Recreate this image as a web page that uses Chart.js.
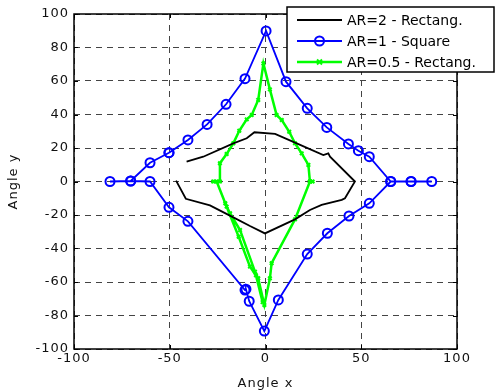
<!DOCTYPE html>
<html>
<head>
<meta charset="utf-8">
<script src="https://cdn.jsdelivr.net/npm/chart.js@4/dist/chart.umd.min.js"></script>
<style>
  html, body { margin: 0; padding: 0; background: #fff; }
  #wrap { width: 496px; height: 392px; }
</style>
</head>
<body>
<div id="wrap"><canvas id="angleChart"></canvas></div>
<script>
// AR=1 - Square (blue, circles)
var sqX = [-50.4, -60.3, -70.4, -81.2, -70.4, -60.3, -50.4, -40.5, -10.7, -10.2, -8.5, -0.6, 6.7, 21.8, 32.3, 43.6, 54.2, 65.4, 76, 86.8, 76, 65.4, 54.2, 48.5, 43.3, 32, 21.8, 10.7, 0.3, -10.7, -20.6, -30.5, -40.5, -50.4];
var sqY = [17.2, 11.2, 0.3, 0, 0.3, 0, -15.4, -23.8, -64.8, -64.3, -71.5, -89.3, -70.7, -43.3, -30.9, -20.6, -13, 0, 0, 0, 0, 0, 14.8, 18.4, 22.4, 32.3, 43.7, 59.6, 89.9, 61.4, 46.1, 34.1, 24.8, 17.2];

// AR=2 - Rectang. (black, no markers)
var ar2X = [-41.2, -32.5, -16.8, -9.8, -5.8, 5, 16.3, 30.2, 32.8, 33.7, 46.7, 41.5, 39.8, 29.3, 23.2, 15.4, -0.3, -8.1, -16.8, -29, -41.6, -46.7];
var ar2Y = [11.8, 14.8, 22.8, 25.8, 29.4, 28.4, 22.8, 15.8, 16.8, 14.8, 0, -10, -11, -14, -17, -22.6, -31, -26.6, -21.4, -14.3, -10.3, 0.5];

// AR=0.5 - Rectang. (green, crosses)
var ar05X = [-27.3, -23.8, -23.8, -20.3, -16.8, -13.7, -9.8, -7.2, -3.8, -1.1, 2.3, 5.8, 8.5, 12.4, 15.4, 18.9, 22.4, 23.2, 24.6, 23.2, 15.4, 3.2, 2.3, -0.6, -3.8, -5.5, -13.3, -18.5, -20.3, -25.5, -21, -14, -8.1, -5, -1.5];
var ar05Y = [0, 0, 10.9, 16.4, 22.8, 30.3, 37.1, 39.7, 48.7, 70.5, 55, 39.7, 36.7, 29.7, 22.8, 16.8, 9.9, 0, 0, 0, -22.6, -48.8, -57.8, -73.7, -57.8, -53.8, -29, -19, -15, 0, -13, -33, -50.8, -56, -72];

var xTicks = [-100, -50, 0, 50, 100];
var yTicks = [-100, -80, -60, -40, -20, 0, 20, 40, 60, 80, 100];

var legendLabels = ['AR=2 - Rectang.', 'AR=1 - Square', 'AR=0.5 - Rectang.'];

function toPoints(xs, ys) {
  return xs.map(function(x, i) { return { x: x, y: ys[i] }; });
}

var tickFont = { family: 'DejaVu Sans', size: 13 };

// the original's text is a bit wide, spread the letters a little
var spacingPlugin = {
  id: 'spacing',
  beforeLayout: function(chart) { chart.ctx.letterSpacing = '1px'; },
  beforeDraw: function(chart) { chart.ctx.letterSpacing = '1px'; }
};

// frame + inward tick marks, matlab style
var framePlugin = {
  id: 'frame',
  afterDatasetsDraw: function(chart) {
    var ctx = chart.ctx, a = chart.chartArea;
    var sx = chart.scales.x, sy = chart.scales.y;
    ctx.save();
    ctx.strokeStyle = '#000';
    ctx.lineWidth = 1;
    ctx.beginPath();
    xTicks.forEach(function(v) {
      var px = Math.round(sx.getPixelForValue(v)) + 0.5;
      ctx.moveTo(px, a.bottom); ctx.lineTo(px, a.bottom - 4);
      ctx.moveTo(px, a.top); ctx.lineTo(px, a.top + 4);
    });
    yTicks.forEach(function(v) {
      var py = Math.round(sy.getPixelForValue(v)) + 0.5;
      ctx.moveTo(a.left, py); ctx.lineTo(a.left + 4, py);
      ctx.moveTo(a.right, py); ctx.lineTo(a.right - 4, py);
    });
    ctx.stroke();
    ctx.lineWidth = 1.5;
    ctx.strokeRect(a.left, a.top, a.right - a.left, a.bottom - a.top);
    ctx.restore();
  }
};

// legend box sitting over the top right corner
var legendBoxPlugin = {
  id: 'legendBox',
  afterDraw: function(chart) {
    var ctx = chart.ctx;
    var bx = 287, by = 7, bw = 207, bh = 65;
    ctx.save();
    ctx.letterSpacing = '0px';
    ctx.fillStyle = '#fff';
    ctx.fillRect(bx, by, bw, bh);
    ctx.strokeStyle = '#000';
    ctx.lineWidth = 1.5;
    ctx.strokeRect(bx, by, bw, bh);
    ctx.font = '14px "DejaVu Sans"';
    ctx.textBaseline = 'middle';
    chart.data.datasets.forEach(function(ds, row) {
      var y = by + 13 + row * 21;
      ctx.strokeStyle = ds.borderColor;
      ctx.lineWidth = ds.borderWidth;
      ctx.beginPath();
      ctx.moveTo(297, y); ctx.lineTo(342, y);
      ctx.stroke();
      if (ds.pointRadius > 0) {
        ctx.lineWidth = ds.pointBorderWidth;
        ctx.beginPath();
        if (ds.pointStyle === 'circle') {
          ctx.arc(319.5, y, ds.pointRadius, 0, Math.PI * 2);
        } else {
          var r = ds.pointRadius;
          ctx.moveTo(319.5 - r, y - r); ctx.lineTo(319.5 + r, y + r);
          ctx.moveTo(319.5 - r, y + r); ctx.lineTo(319.5 + r, y - r);
        }
        ctx.stroke();
      }
      ctx.fillStyle = '#000';
      ctx.fillText(legendLabels[row], 347, y + 1);
    });
    ctx.restore();
  }
};

var ctx = document.getElementById('angleChart').getContext('2d');
new Chart(ctx, {
  type: 'scatter',
  data: {
    datasets: [{
      label: legendLabels[0],
      data: toPoints(ar2X, ar2Y),
      showLine: true,
      borderColor: '#000000',
      borderWidth: 1.8,
      pointRadius: 0,
      pointBorderWidth: 0,
      pointStyle: 'line'
    }, {
      label: legendLabels[1],
      data: toPoints(sqX, sqY),
      showLine: true,
      borderColor: '#0000ff',
      backgroundColor: 'rgba(0,0,0,0)',
      borderWidth: 1.8,
      pointStyle: 'circle',
      pointRadius: 4.5,
      pointBorderWidth: 2,
      pointBorderColor: '#0000ff',
      pointBackgroundColor: 'rgba(0,0,0,0)'
    }, {
      label: legendLabels[2],
      data: toPoints(ar05X, ar05Y),
      showLine: true,
      borderColor: '#00ff00',
      borderWidth: 2.5,
      pointStyle: 'crossRot',
      pointRadius: 2.5,
      pointBorderWidth: 2,
      pointBorderColor: '#00ff00'
    }]
  },
  options: {
    responsive: true,
    maintainAspectRatio: false,
    animation: false,
    layout: { padding: { top: 14, right: 39, left: 0, bottom: 0 } },
    plugins: { legend: { display: false }, tooltip: { enabled: false } },
    scales: {
      x: {
        type: 'linear',
        min: -100, max: 100,
        afterBuildTicks: function(s) { s.ticks = xTicks.map(function(v) { return { value: v }; }); },
        afterFit: function(s) { s.height = 43; },
        ticks: { color: '#111', font: tickFont, padding: 2, maxRotation: 0 },
        grid: { color: '#444', lineWidth: 1, drawTicks: false },
        border: { display: false, dash: [6, 5] },
        title: { display: true, text: 'Angle x', color: '#111', font: tickFont, padding: { top: 0, bottom: 1 } }
      },
      y: {
        type: 'linear',
        min: -100, max: 100,
        afterBuildTicks: function(s) { s.ticks = yTicks.map(function(v) { return { value: v }; }); },
        afterFit: function(s) { s.width = 74; },
        ticks: { color: '#111', font: tickFont, padding: 5 },
        grid: { color: '#444', lineWidth: 1, drawTicks: false },
        border: { display: false, dash: [6, 5] },
        title: { display: true, text: 'Angle y', color: '#111', font: tickFont, padding: { top: 6, bottom: 0 } }
      }
    }
  },
  plugins: [spacingPlugin, framePlugin, legendBoxPlugin]
});
</script>
</body>
</html>
